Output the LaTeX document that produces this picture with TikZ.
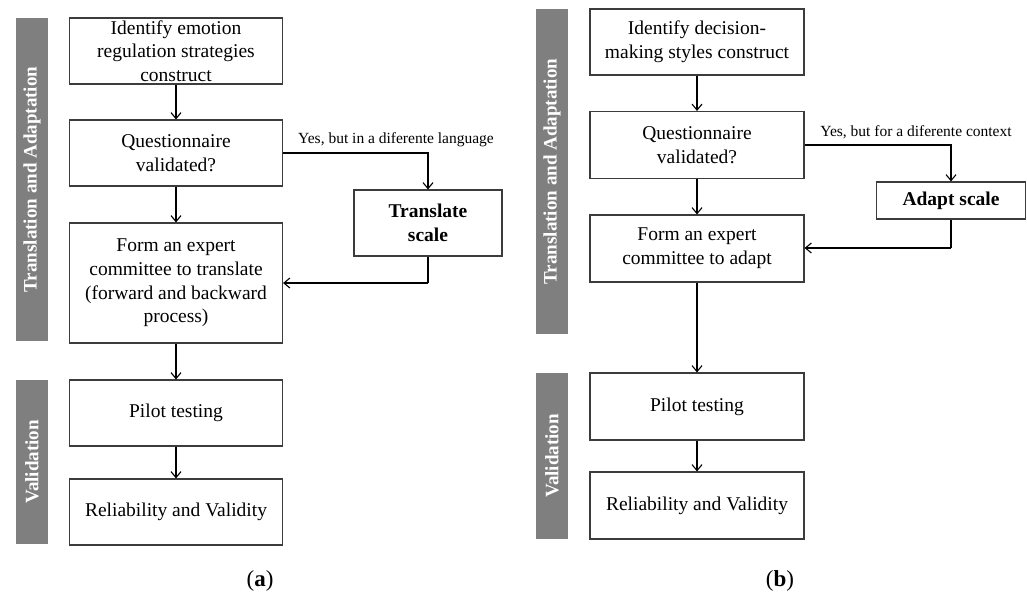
\documentclass[tikz,border=0pt]{standalone}
\usepackage{fontspec}
\setmainfont{Liberation Serif}
\usetikzlibrary{arrows.meta}
\definecolor{bandgray}{RGB}{127,127,127}
\definecolor{boxline}{RGB}{60,60,60}
\tikzset{
  box/.style={draw=boxline, line width=1.1pt, align=center, inner sep=0pt,
    font=\fontsize{19.5}{23.7}\selectfont},
  band/.style={fill=bandgray, draw=none},
  bandtext/.style={text=white, font=\fontsize{19}{22}\selectfont\bfseries, rotate=90},
  conn/.style={line width=1.1pt, -{Straight Barb[length=6pt,width=10pt,line width=1.1pt]}},
  edgelabel/.style={font=\fontsize{15.5}{18}\selectfont},
  panellabel/.style={font=\fontsize{23}{26}\selectfont}
}
\begin{document}
\begin{tikzpicture}[x=1pt,y=-1pt]
\useasboundingbox (0,0) rectangle (1027,595);
% ---------- panel (a) ----------
\fill[band] (16,18) rectangle (48,341);
\fill[band] (16,380) rectangle (48,544);
\node[bandtext] (ta) at (32,179.5) {Translation and Adaptation};
\node[bandtext] (va) at (32,462) {Validation};

\node[box, minimum width=213pt, minimum height=66pt] (a1) at (176,51) {Identify emotion\\regulation strategies\\construct};
\node[box, minimum width=213pt, minimum height=66pt] (a2) at (176,153) {Questionnaire\\validated?};
\node[box, minimum width=213pt, minimum height=120pt] (a3) at (176,283) {Form an expert\\committee to translate\\(forward and backward\\process)};
\node[box, minimum width=148pt, minimum height=66pt, font=\fontsize{19.5}{23.7}\selectfont\bfseries] (at) at (428,223) {Translate\\scale};
\node[box, minimum width=213pt, minimum height=66pt] (a4) at (176,413) {Pilot testing};
\node[box, minimum width=213pt, minimum height=66pt] (a5) at (176,512) {Reliability and Validity};
\node[edgelabel] (la) at (396,140) {Yes, but in a diferente language};
\coordinate (ca) at (428,283);

\draw[conn] (a1) -- (a2);
\draw[conn] (a2) -- (a3);
\draw[conn] (a3) -- (a4);
\draw[conn] (a4) -- (a5);
\draw[conn] (a2.east) -| (at.north);
\draw[line width=1.1pt] (at.south) -- (ca);
\draw[conn] (ca) -- (a3.east |- ca);

\node[panellabel] (pa) at (260,581) {(\textbf{a})};

% ---------- panel (b) ----------
\fill[band] (536,9) rectangle (568,334);
\fill[band] (536,373) rectangle (568,539);
\node[bandtext] (tb) at (552,171.5) {Translation and Adaptation};
\node[bandtext] (vb) at (552,456) {Validation};

\node[box, minimum width=214pt, minimum height=66pt] (b1) at (697,42) {Identify decision-\\making styles construct};
\node[box, minimum width=214pt, minimum height=67pt] (b2) at (697,145) {Questionnaire\\validated?};
\node[box, minimum width=214pt, minimum height=67pt] (b3) at (697,248.5) {Form an expert\\committee to adapt};
\node[box, minimum width=149pt, minimum height=37pt, font=\fontsize{19.5}{23.7}\selectfont\bfseries] (bs) at (951,200.5) {Adapt scale};
\node[box, minimum width=214pt, minimum height=67pt] (b4) at (697,406.5) {Pilot testing};
\node[box, minimum width=214pt, minimum height=67pt] (b5) at (697,505.5) {Reliability and Validity};
\node[edgelabel] (lb) at (916,132) {Yes, but for a diferente context};
\coordinate (cb) at (951,248);

\draw[conn] (b1) -- (b2);
\draw[conn] (b2) -- (b3);
\draw[conn] (b3) -- (b4);
\draw[conn] (b4) -- (b5);
\draw[conn] (b2.east) -| (bs.north);
\draw[line width=1.1pt] (bs.south) -- (cb);
\draw[conn] (cb) -- (b3.east |- cb);

\node[panellabel] (pb) at (780,581) {(\textbf{b})};
\end{tikzpicture}
\end{document}
